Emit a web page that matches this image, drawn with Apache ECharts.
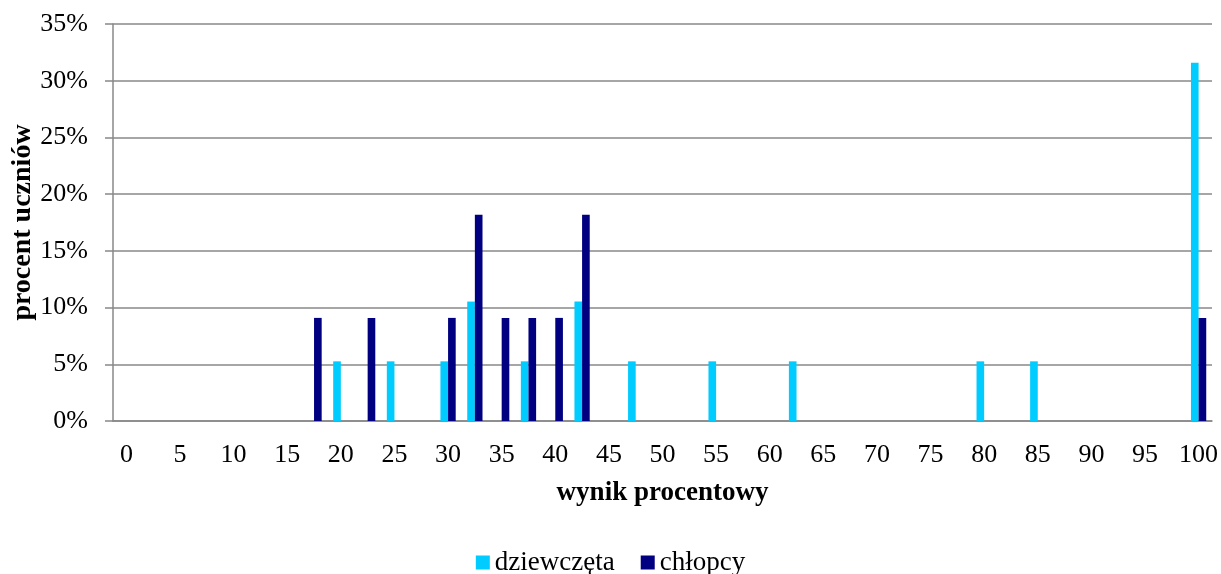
<!DOCTYPE html>
<html>
<head>
<meta charset="utf-8">
<script src="https://cdn.jsdelivr.net/npm/echarts@6/dist/echarts.min.js"></script>
<style>
html,body{margin:0;padding:0;background:#fff;}
#chart{width:1221px;height:574px;}
</style>
</head>
<body>
<div id="chart"></div>
<script>
// Categories: score in percent, step 2.5 (labels shown every 5)
const categories = ["0","2.5","5","7.5","10","12.5","15","17.5","20","22.5","25","27.5","30","32.5","35","37.5","40","42.5","45","47.5","50","52.5","55","57.5","60","62.5","65","67.5","70","72.5","75","77.5","80","82.5","85","87.5","90","92.5","95","97.5","100"];
// percent of students
const dziewczeta = [0,0,0,0,0,0,0,0,5.26,0,5.26,0,5.26,10.53,0,5.26,0,10.53,0,5.26,0,0,5.26,0,0,5.26,0,0,0,0,0,0,5.26,0,5.26,0,0,0,0,0,31.58];
const chlopcy    = [0,0,0,0,0,0,0,9.09,0,9.09,0,0,9.09,18.18,9.09,9.09,9.09,18.18,0,0,0,0,0,0,0,0,0,0,0,0,0,0,0,0,0,0,0,0,0,0,9.09];
const seriesNames = ["dziewczęta","chłopcy"];
const yTicks = {min:0, max:35, interval:5};

const font = "Liberation Serif";
const chart = echarts.init(document.getElementById('chart'), null, {renderer:'canvas'});
chart.setOption({
  animation:false,
  textStyle:{fontFamily:font},
  grid:{left:113, right:9, top:24, bottom:153, containLabel:false, outerBoundsMode:'none'},
  legend:{
    data:seriesNames, top:544, left:'center',
    itemWidth:14, itemHeight:14, itemGap:26,
    icon:'rect',
    textStyle:{fontFamily:font, fontSize:27, color:'#000'}
  },
  xAxis:{
    type:'category', data:categories,
    name:'wynik procentowy', nameLocation:'middle', nameGap:59,
    nameTextStyle:{fontFamily:font, fontSize:27, fontWeight:'bold', color:'#000'},
    axisLine:{lineStyle:{color:'#888', width:1.5}},
    axisTick:{show:false},
    axisLabel:{interval:1, margin:21, fontFamily:font, fontSize:26, color:'#000'},
    splitLine:{show:false}
  },
  yAxis:{
    type:'value', min:yTicks.min, max:yTicks.max, interval:yTicks.interval,
    name:'procent uczniów', nameLocation:'middle', nameGap:76, nameMoveOverlap:false,
    nameTextStyle:{fontFamily:font, fontSize:28, fontWeight:'bold', color:'#000'},
    axisLine:{show:true, lineStyle:{color:'#888', width:1.5}},
    axisTick:{show:true, length:8, lineStyle:{color:'#888', width:1.5}},
    axisLabel:{formatter:'{value}%', margin:25, fontFamily:font, fontSize:26, color:'#000'},
    splitLine:{lineStyle:{color:'#888', width:1.5}}
  },
  series:[
    {name:seriesNames[0], type:'bar', data:dziewczeta, barGap:'0%', barCategoryGap:'43%', itemStyle:{color:'#00CCFF'}},
    {name:seriesNames[1], type:'bar', data:chlopcy, barGap:'0%', barCategoryGap:'43%', itemStyle:{color:'#000080'}}
  ]
});
</script>
</body>
</html>
